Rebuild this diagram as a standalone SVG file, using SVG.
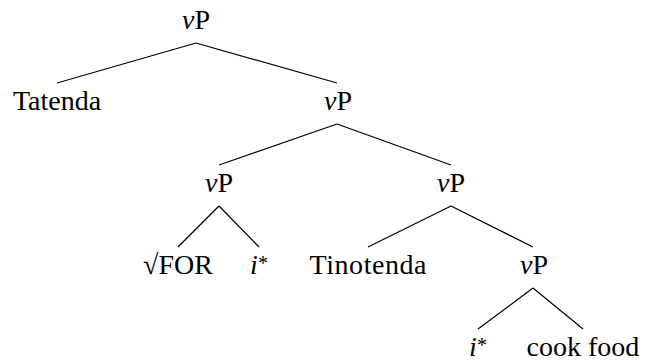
<svg xmlns="http://www.w3.org/2000/svg" width="645" height="362" viewBox="0 0 645 362">
<style>
text{font-family:'Liberation Serif','DejaVu Serif','Times New Roman',serif;font-size:28px;fill:#000;text-anchor:middle}
.it{font-style:italic}
.ast{font-size:20px}
line{stroke:#000;stroke-width:1.2}
</style>
<rect width="645" height="362" fill="#fff"/>
<g id="connectors">
<line x1="196" y1="43" x2="57" y2="83"/>
<line x1="196" y1="43" x2="337" y2="83"/>
<line x1="337" y1="124" x2="219" y2="165"/>
<line x1="337" y1="124" x2="451" y2="165"/>
<line x1="219" y1="206" x2="178" y2="247"/>
<line x1="219" y1="206" x2="259" y2="247"/>
<line x1="451" y1="206" x2="368" y2="247"/>
<line x1="451" y1="206" x2="533" y2="247"/>
<line x1="533" y1="288" x2="478" y2="329"/>
<line x1="533" y1="288" x2="583" y2="329"/>
</g>
<g id="n-root"><text x="196" y="29"><tspan class="it">v</tspan>P</text></g>
<g id="n-tatenda"><text x="57" y="110">Tatenda</text></g>
<g id="n-vp2"><text x="338" y="110"><tspan class="it">v</tspan>P</text></g>
<g id="n-vp3l"><text x="219" y="192"><tspan class="it">v</tspan>P</text></g>
<g id="n-vp3r"><text x="451" y="192"><tspan class="it">v</tspan>P</text></g>
<g id="n-for"><text x="178" y="274">√FOR</text></g>
<g id="n-i1"><text x="259" y="274"><tspan class="it">i</tspan><tspan class="ast" dy="-4">*</tspan></text></g>
<g id="n-tinotenda"><text x="368" y="274" textLength="117" lengthAdjust="spacing">Tinotenda</text></g>
<g id="n-vp4"><text x="534" y="274"><tspan class="it">v</tspan>P</text></g>
<g id="n-i2"><text x="478" y="356"><tspan class="it">i</tspan><tspan class="ast" dy="-4">*</tspan></text></g>
<g id="n-cook"><text x="583" y="356">cook food</text></g>
</svg>
